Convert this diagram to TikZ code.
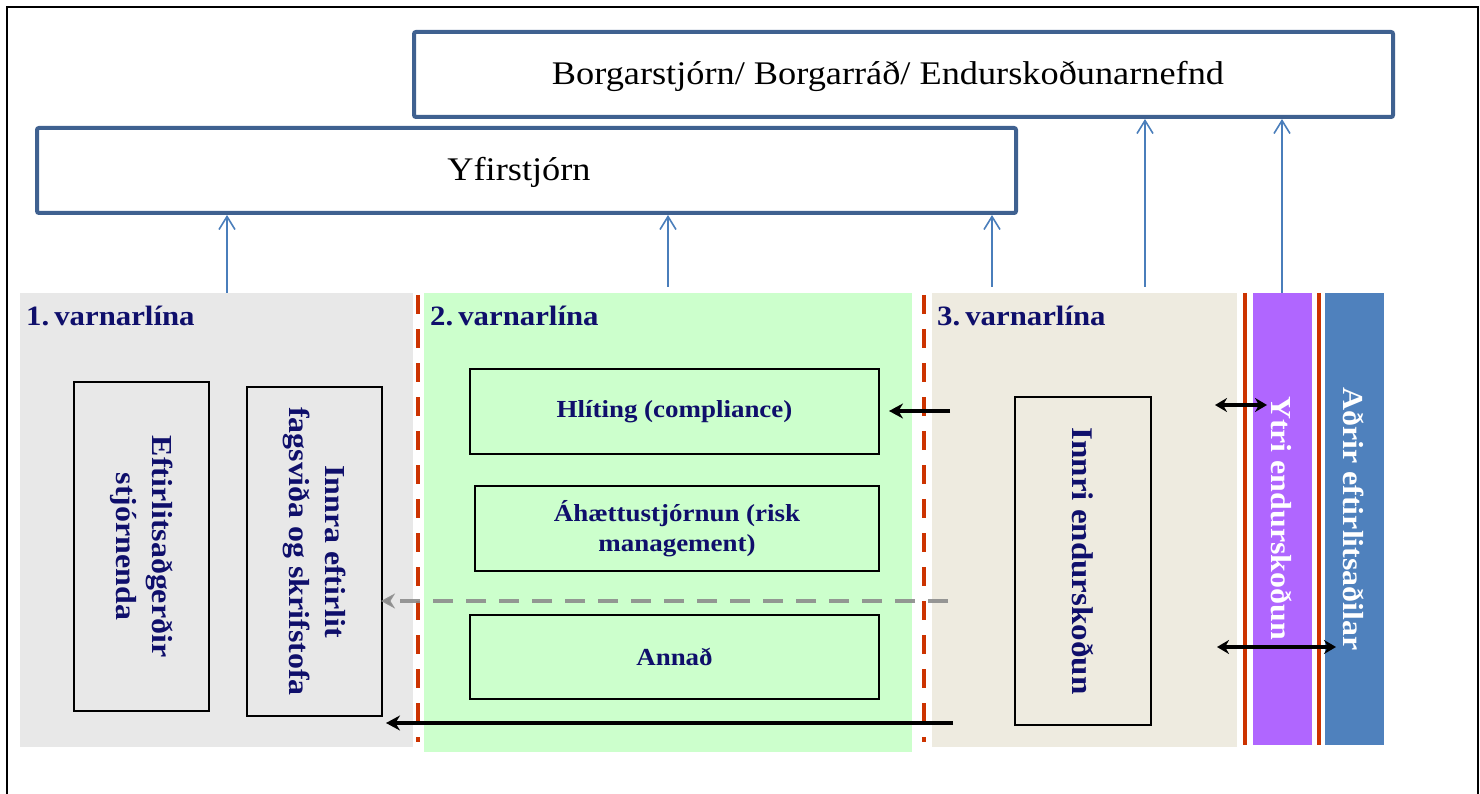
\documentclass[tikz,border=0pt]{standalone}
\usepackage{fontspec}
\setmainfont{Liberation Serif}[FakeStretch=1.1]
\usetikzlibrary{arrows.meta}
\definecolor{navytxt}{HTML}{0F0F6B}
\definecolor{topblue}{HTML}{3F6190}
\definecolor{arrblue}{HTML}{4A7EBB}
\definecolor{pgray}{HTML}{E8E8E8}
\definecolor{pgreen}{HTML}{CCFFCC}
\definecolor{pbeige}{HTML}{EEEBE0}
\definecolor{ppurple}{HTML}{B066FF}
\definecolor{pblue}{HTML}{4F81BD}
\definecolor{redline}{HTML}{CC3300}
\definecolor{dgray}{HTML}{8C8C8C}
\tikzset{
  topbox/.style={draw=topblue, line width=4pt, rounded corners=2pt, fill=white, inner sep=0pt, font=\fontsize{33}{38}\selectfont},
  panel/.style={anchor=north west, inner sep=0pt, draw=none},
  inbox/.style={draw=black, line width=2pt, inner sep=0pt, align=center, text=navytxt, font=\bfseries\fontsize{24.5}{30}\selectfont},
  vbox/.style={draw=black, line width=2pt, inner sep=0pt},
  vtext/.style={rotate=-90, align=center, text=navytxt, font=\bfseries\fontsize{29}{36}\selectfont},
  wtext/.style={rotate=-90, text=white, font=\bfseries\fontsize{29}{36}\selectfont},
  lbl/.style={anchor=base west, inner sep=0pt, text=navytxt, font=\bfseries\fontsize{28}{32}\selectfont},
  bluearr/.style={draw=arrblue, line width=1.6pt, -{Straight Barb[length=13pt,width=16pt,line width=1.6pt]}},
  blackarr/.style={draw=black, line width=4pt, -{Stealth[length=14pt,width=15pt]}},
  dblarr/.style={draw=black, line width=4pt, {Stealth[length=12pt,width=14pt]}-{Stealth[length=12pt,width=14pt]}},
  grayarr/.style={draw=dgray, line width=4.5pt, opacity=0.9, dash pattern=on 20pt off 13pt, -{Stealth[length=14pt,width=15pt]}},
  reddash/.style={draw=redline, line width=4.5pt, dash pattern=on 19pt off 15pt},
  redsolid/.style={draw=redline, line width=4.5pt}
}
\begin{document}
\begin{tikzpicture}[x=1pt,y=-1pt]
\useasboundingbox (0,0) rectangle (1480,794);
% outer frame
\draw[line width=2pt] (7,794) -- (7,7) -- (1478,7) -- (1478,794);

% panels
\node[panel, fill=pgray, minimum width=393pt, minimum height=454pt] (p1) at (20,293) {};
\node[panel, fill=pgreen, minimum width=488pt, minimum height=459pt] (p2) at (424,293) {};
\node[panel, fill=pbeige, minimum width=305pt, minimum height=454pt] (p3) at (932,293) {};
\node[panel, fill=ppurple, minimum width=59pt, minimum height=452pt] (ytri) at (1253,293) {};
\node[panel, fill=pblue, minimum width=59pt, minimum height=452pt] (adrir) at (1325,293) {};
\node[wtext] (ytritxt) at (1282,518) {Ytri endurskoðun};
\node[wtext] (adrirtxt) at (1354,519) {Aðrir eftirlitsaðilar};

% separator lines
\coordinate (r1a) at (418,295); \coordinate (r1b) at (418,742);
\coordinate (r2a) at (924,295); \coordinate (r2b) at (924,742);
\coordinate (r3a) at (1245,293); \coordinate (r3b) at (1245,745);
\coordinate (r4a) at (1319,293); \coordinate (r4b) at (1319,745);
\draw[reddash] (r1a) -- (r1b);
\draw[reddash] (r2a) -- (r2b);
\draw[redsolid] (r3a) -- (r3b);
\draw[redsolid] (r4a) -- (r4b);

% labels
\node[lbl] (l1) at (26,325) {1.\kern5pt varnarlína};
\node[lbl] (l2) at (430,325) {2.\kern5pt varnarlína};
\node[lbl] (l3) at (937,325) {3.\kern5pt varnarlína};

% top boxes
\node[topbox, minimum width=979pt, minimum height=85pt] (bsb) at (903.5,74.5) {};
\node[font=\fontsize{33}{38}\selectfont] (bsbtxt) at (888,76) {Borgarstjórn/ Borgarráð/ Endurskoðunarnefnd};
\node[topbox, minimum width=979pt, minimum height=85pt] (yfir) at (526.5,170.5) {};
\node[font=\fontsize{33}{38}\selectfont] (yfirtxt) at (519,172) {Yfirstjórn};

% inner boxes
\node[vbox, minimum width=135pt, minimum height=329pt] (eft) at (141.5,546.5) {};
\node[vtext] at (eft.center) {Eftirlitsaðgerðir\\stjórnenda};
\node[vbox, minimum width=135pt, minimum height=329pt] (innra) at (314.5,551.5) {};
\node[vtext] at (innra.center) {Innra eftirlit\\fagsviða og skrifstofa};
\node[inbox, minimum width=409pt, minimum height=85pt] (hl) at (674.5,411.5) {Hlíting (compliance)};
\node[inbox, minimum width=404pt, minimum height=85pt] (aha) at (677,528.5) {Áhættustjórnun (risk\\management)};
\node[inbox, minimum width=409pt, minimum height=84pt] (ann) at (674.5,657) {Annað};
\node[vbox, minimum width=136pt, minimum height=328pt] (innri) at (1083,561) {};
\node[vtext, font=\bfseries\fontsize{30}{36}\selectfont] at (innri.center) {Innri endurskoðun};

% blue arrows
\coordinate (b1) at (227,293);
\coordinate (b2) at (668,287);
\coordinate (b3) at (992,287);
\coordinate (b4) at (1145,287);
\coordinate (b5) at (1282,293);
\draw[bluearr] (b1) -- (b1 |- yfir.south);
\draw[bluearr] (b2) -- (b2 |- yfir.south);
\draw[bluearr] (b3) -- (b3 |- yfir.south);
\draw[bluearr] (b4) -- (b4 |- bsb.south);
\draw[bluearr] (b5) -- (b5 |- bsb.south);

% black / gray arrows
\coordinate (c1) at (950,411);
\coordinate (c2) at (948,601);
\coordinate (c3) at (953,723);
\draw[blackarr] (c1) -- ([xshift=9pt]hl.east |- c1);
\draw[grayarr] (c2) -- ([xshift=-2pt]innra.east |- c2);
\draw[blackarr] (c3) -- ([xshift=3pt]innra.east |- c3);

% double arrows
\coordinate (d1) at (1215,405); \coordinate (d2) at (1267,405);
\coordinate (d3) at (1217,647); \coordinate (d4) at (1336,647);
\draw[dblarr] (d1) -- (d2);
\draw[dblarr] (d3) -- (d4);
\end{tikzpicture}
\end{document}
